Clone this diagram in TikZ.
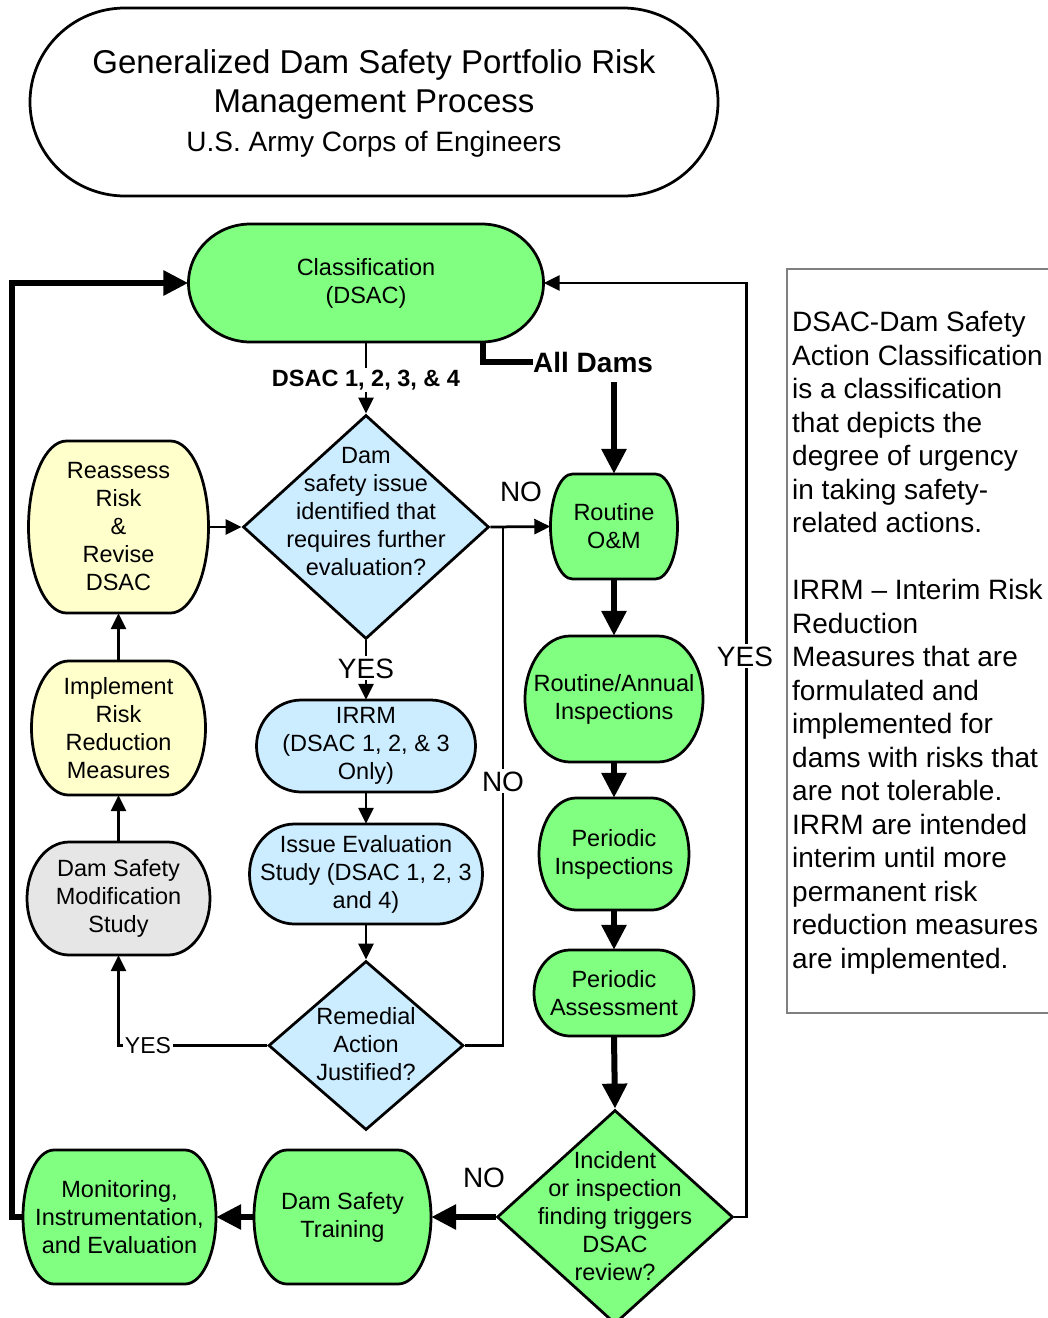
\documentclass[tikz,border=0pt]{standalone}
\usepackage{fontspec}
\setmainfont{Liberation Sans}
\usetikzlibrary{arrows.meta,shapes.geometric,calc}
\definecolor{gfill}{HTML}{80FF80}
\definecolor{bfill}{HTML}{CCECFF}
\definecolor{yfill}{HTML}{FFFFCC}
\definecolor{gyfill}{HTML}{E6E6E6}
\definecolor{sidegray}{HTML}{808080}
% #1 name, #2 cx, #3 cy (down), #4 w, #5 h, #6 corner x radius, #7 fill, #8 text
\newcommand\shapenode[8]{%
  \filldraw[fill=#7, shapeborder] (#2-#4/2+#6, -#3+#5/2) -- (#2+#4/2-#6, -#3+#5/2)
    arc[start angle=90, end angle=-90, x radius=#6, y radius=#5/2]
    -- (#2-#4/2+#6, -#3-#5/2)
    arc[start angle=270, end angle=90, x radius=#6, y radius=#5/2] -- cycle;
  \node[boxtext, minimum width=#4, minimum height=#5] (#1) at (#2,-#3) {#8};
}
\begin{document}
\begin{tikzpicture}[x=1pt,y=1pt,
  shapeborder/.style={line width=2.75pt, line join=round},
  boxtext/.style={inner sep=0pt, align=center, font=\fontsize{23.5}{28}\selectfont},
  dia/.style={diamond, draw, line width=2.75pt, inner sep=0pt, line join=miter},
  thinln/.style={line width=2.75pt},
  thinarr/.style={line width=2.75pt, -{Triangle[length=16pt,width=15pt]}},
  thickln/.style={line width=6pt},
  thickarr/.style={line width=6pt, -{Triangle[length=25pt,width=24pt]}},
  lbl/.style={font=\fontsize{28}{30}\selectfont, fill=white, inner sep=2pt, anchor=base},
]
\useasboundingbox (0,0) rectangle (1048,-1318);

% title
\shapenode{title}{374}{102}{688}{188}{95}{white}{}
\node[inner sep=0pt, align=center, font=\fontsize{33}{39}\selectfont] (titletext) at (374,-103)
  {Generalized Dam Safety Portfolio Risk\\Management Process\\{\fontsize{28}{39}\selectfont U.S. Army Corps of Engineers}};

% nodes
\shapenode{class}{366}{283}{355}{118}{62}{gfill}{Classification\\(DSAC)}
\shapenode{rr}{118.5}{527}{180}{172}{38}{yfill}{Reassess\\Risk\\\&\\Revise\\DSAC}
\shapenode{imp}{118.5}{728}{174}{134}{37}{yfill}{Implement\\Risk\\Reduction\\Measures}
\shapenode{dsm}{118.5}{898.5}{183}{113}{42}{gyfill}{Dam Safety\\Modification\\Study}
\shapenode{irrm}{366}{746}{219}{92}{45}{bfill}{IRRM\\(DSAC 1, 2, \& 3\\Only)}
\shapenode{ies}{366}{874}{233}{100}{45}{bfill}{Issue Evaluation\\Study (DSAC 1, 2, 3\\and 4)}
\shapenode{om}{614}{526.5}{127}{105}{22}{gfill}{Routine\\O\&M}
\shapenode{ra}{614}{699}{178}{126}{45}{gfill}{Routine/Annual\\Inspections}
\shapenode{pi}{614}{854}{150}{112}{37}{gfill}{Periodic\\Inspections}
\shapenode{pa}{614}{993}{160}{86}{36}{gfill}{Periodic\\Assessment}
\shapenode{tr}{342.5}{1217}{177}{134}{33}{gfill}{Dam Safety\\Training}
\shapenode{mon}{119.5}{1217}{193}{134}{31}{gfill}{Monitoring,\\Instrumentation,\\and Evaluation}

% diamonds
\node[dia, fill=bfill, minimum width=246, minimum height=224] (d1) at (366,-527) {};
\node[boxtext] (d1t) at (366,-512) {Dam\\safety issue\\identified that\\requires further\\evaluation?};
\node[dia, fill=bfill, minimum width=195, minimum height=169] (d2) at (366,-1045.5) {};
\node[boxtext] (d2t) at (366,-1044) {Remedial\\Action\\Justified?};
\node[dia, fill=gfill, minimum width=236, minimum height=214] (d3) at (615,-1217) {};
\node[boxtext] (d3t) at (615,-1216) {Incident\\or inspection\\finding triggers\\DSAC\\review?};

% thin connectors
\draw[thinarr] (class.south) -- (d1.north);
\node[lbl, font=\fontsize{23.5}{28}\bfseries\selectfont] (dsaclbl) at (366,-386) {DSAC 1, 2, 3, \& 4};
\draw[thinarr] (rr.east) -- (d1.west);
\draw[thinarr] (d1.south) -- (irrm.north);
\node[lbl] (yes1) at (366,-678) {YES};
\draw[thinarr] (irrm.south) -- (ies.north);
\draw[thinarr] (ies.south) -- (d2.north);
\draw[thinarr] (d2.west) -| (dsm.south);
\node[lbl, font=\fontsize{23}{26}\selectfont, inner sep=1.5pt] (yes2) at (148,-1053) {YES};
\draw[thinarr] (dsm.north) -- (imp.south);
\draw[thinarr] (imp.north) -- (rr.south);
\draw[thinarr] (d1.east) -- (om.west);
\node[lbl, fill=none] (no1) at (521,-501) {NO};
\coordinate (nojoin) at (503,-527);
\draw[thinln] (d2.east) -| (nojoin);
\node[lbl] (no2) at (503,-791) {NO};
\draw[thinarr] (d3.east) -- ++(12,0) |- (class.east);
\node[lbl] (yes3) at (745,-666) {YES};

% thick connectors
\node[inner sep=0pt, anchor=west, font=\fontsize{28}{30}\bfseries\selectfont] (alldams) at (533,-362) {All Dams};
\coordinate (cadj) at (483,-341);
\draw[thickln] (cadj) |- (alldams.west);
\coordinate (adstart) at (614,-382);
\draw[thickarr] (adstart) -- (om.north);
\draw[thickarr] (om.south) -- (ra.north);
\draw[thickarr] (ra.south) -- (pi.north);
\draw[thickarr] (pi.south) -- (pa.north);
\draw[thickarr] (pa.south) -- (d3.north);
\draw[thickarr] (d3.west) -- (tr.east);
\node[lbl, fill=none] (no3) at (484,-1187) {NO};
\draw[thickarr] (tr.west) -- (mon.east);
\draw[thickarr] (mon.west) -- ++(-11,0) |- (class.west);

% side note
\draw[sidegray, line width=1.8pt] (787,-269) rectangle (1080,-1013);
\node[anchor=north west, inner sep=0pt, align=left, font=\fontsize{28}{33.5}\selectfont] (note) at (792,-311.5) {DSAC-Dam Safety\\Action Classification\\is a classification\\that depicts the\\degree of urgency\\in taking safety-\\related actions.\\[33.5pt]IRRM – Interim Risk\\Reduction\\Measures that are\\formulated and\\implemented for\\dams with risks that\\are not tolerable.\\IRRM are intended\\interim until more\\permanent risk\\reduction measures\\are implemented.};
\end{tikzpicture}
\end{document}
